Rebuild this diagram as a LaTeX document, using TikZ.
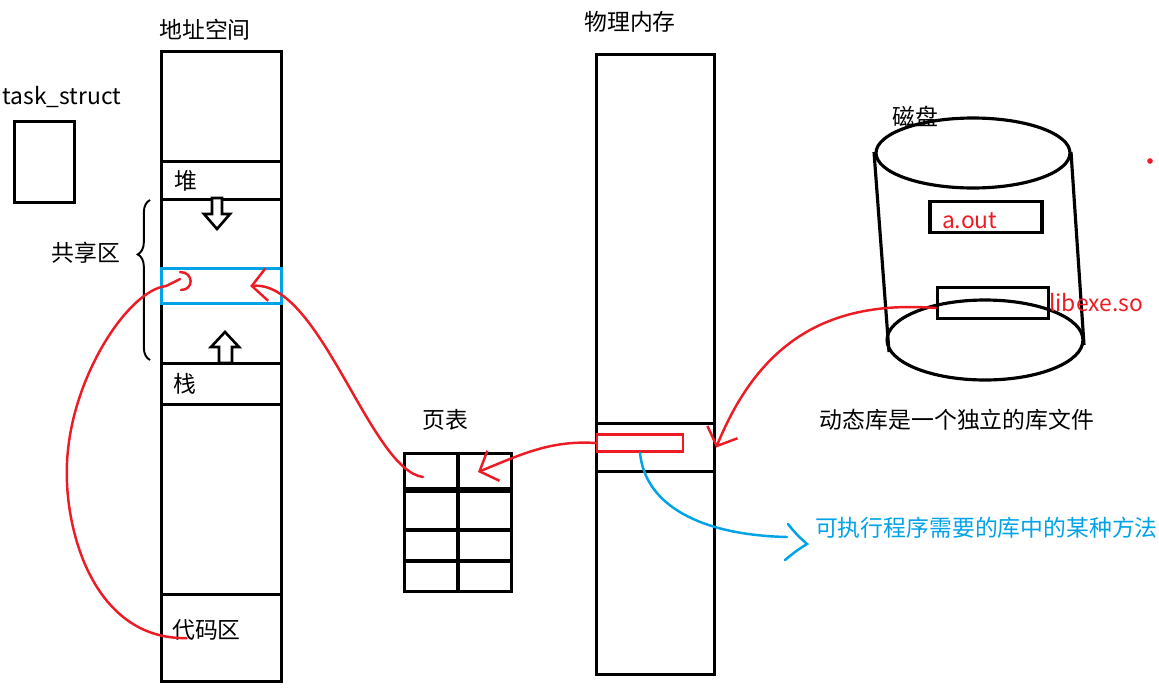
\documentclass[tikz,border=0pt]{standalone}
\usepackage{fontspec}
\setmainfont{Noto Sans CJK SC}
\usetikzlibrary{arrows.meta,decorations.pathreplacing}
\definecolor{pred}{RGB}{237,28,36}
\definecolor{pblue}{RGB}{0,162,232}

\begin{document}
\begin{tikzpicture}[x=0.02cm, y=-0.02cm, font=\fontsize{13}{15}\selectfont,
  blk/.style={draw, line width=1.8pt, inner sep=0pt},
  lbl/.style={inner sep=1pt},
  redl/.style={draw=pred, line width=1.4pt, line cap=round},
  redarr/.style={redl, -{Straight Barb[length=0.3cm, width=0.65cm, line width=1.4pt]}},
  hollow/.style={draw, line width=1.5pt, fill=white, line join=miter}]
\useasboundingbox (0,0) rectangle (1159,690);
% address space
\node[lbl] (addrt) at (205,30) {地址空间};
\node[blk, minimum width=2.4cm, minimum height=12.6cm, anchor=north west] (addr) at (160,50) {};
\node[blk, minimum width=2.4cm, minimum height=0.76cm, anchor=north west] (heap) at (160,160) {};
\node[blk, minimum width=2.4cm, minimum height=0.82cm, anchor=north west] (stack) at (160,362) {};
\node[blk, minimum width=2.4cm, minimum height=1.74cm, anchor=north west] (code) at (160,593) {};
\node[blk, draw=pblue, minimum width=2.4cm, minimum height=0.7cm, anchor=north west] (shared) at (160,267) {};
\node[lbl, anchor=west] (heapt) at ([xshift=0.24cm]heap.west) {堆};
\node[lbl, anchor=west] (stackt) at ([xshift=0.22cm]stack.west) {栈};
\node[lbl] (codet) at ([xshift=-0.3cm, yshift=0.16cm]code.center) {代码区};
\draw[hollow] (212,198) -- (222,198) -- (222,214) -- (230,214) -- (217,229) -- (204,214) -- (212,214) -- cycle;
\draw[hollow] (219,363) -- (232,363) -- (232,347) -- (239,347) -- (225,332) -- (211,347) -- (219,347) -- cycle;
\draw[decorate, decoration={brace, amplitude=7pt, aspect=0.66}, line width=1.1pt] (150,360) -- (150,200);
\node[lbl, anchor=east] (sharedt) at (122,253) {共享区};
% task_struct
\node[lbl] (tst) at (62,97) {task\_struct};
\node[blk, minimum width=1.2cm, minimum height=1.62cm, anchor=north west] (ts) at (13,120) {};
% page table
\node[lbl] (ptt) at (445,420) {页表};
\node[blk, minimum width=2.14cm, minimum height=2.76cm, anchor=north west] (pt) at (403,452) {};
\draw[line width=1.8pt] (pt.north) -- (pt.south);
\foreach \y/\w in {490/3.2pt, 530/2.8pt, 561/1.8pt}
  \draw[line width=\w] (pt.west |- 0,\y) -- (pt.east |- 0,\y);
\coordinate (ptR) at (478,472);
\coordinate (ptL) at (423,477);
% physical memory
\node[lbl] (memt) at (630,22) {物理内存};
\node[blk, minimum width=2.36cm, minimum height=12.4cm, anchor=north west] (mem) at (595,53) {};
\node[blk, minimum width=2.36cm, minimum height=0.96cm, anchor=north west] (memrow) at (595,422) {};
\node[blk, draw=pred, line width=1.5pt, minimum width=1.72cm, minimum height=0.34cm] (lib) at (640,443) {};
% disk
\node[lbl] (diskt) at (915,117) {磁盘};
\draw[line width=1.8pt] (973,153) ellipse [x radius=1.94cm, y radius=0.7cm];
\draw[line width=1.8pt] (985,340) ellipse [x radius=1.96cm, y radius=0.8cm];
\draw[line width=1.8pt] (874,152) -- (889,352);
\draw[line width=1.8pt] (1071,152) -- (1084,345);
\node[blk, minimum width=2.24cm, minimum height=0.62cm] (aoutbox) at (986,217) {};
\node[lbl, text=pred, anchor=west] (aout) at (940,221) {a.out};
\node[blk, minimum width=2.22cm, minimum height=0.62cm] (libbox) at (993,303) {};
\node[lbl, text=pred, anchor=west] (libso) at (1047,303) {libexe.so};
\fill[pred] (1150,161) circle [radius=1.6pt];
\node[lbl] (note) at (957,420) {动态库是一个独立的库文件};
\node[lbl, text=pblue, anchor=west] (method) at (813,528) {可执行程序需要的库中的某种方法};
% connectors
\draw[redarr] ([yshift=-0.1cm]libbox.west) .. controls (830,300) and (760,340) .. (memrow.east);
\draw[redarr] (lib.west) .. controls (550,440) and (520,455) .. (ptR);
\draw[redarr] (ptL) .. controls (370,470) and (320,280) .. ([xshift=-0.66cm]shared.east);
\draw[redl] ([xshift=-0.7cm]code.center) .. controls (90,640) and (60,520) .. (68,450)
  .. controls (76,370) and (130,290) .. ([xshift=0.12cm]shared.west) -- (180,279);
\draw[redl] (180,272) .. controls (194,272) and (194,290) .. (181,290);
\draw[pblue, line width=1.4pt, line cap=round] (lib.south) .. controls (645,505) and (700,535) .. (787,537);
\draw[pblue, line width=1.4pt, line cap=round] (788,524) .. controls (796,534) .. (807,544) .. controls (796,551) .. (785,560);
\end{tikzpicture}
\end{document}
